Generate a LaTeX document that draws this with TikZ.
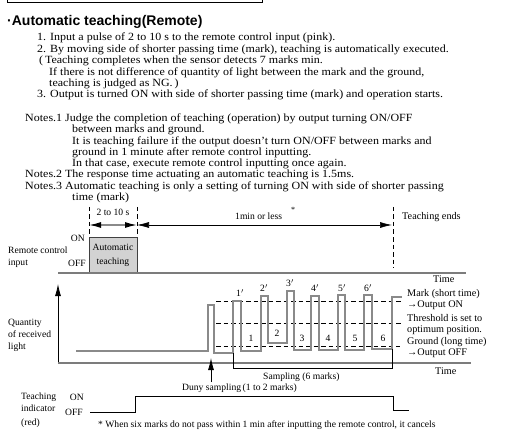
\documentclass[tikz,border=0pt]{standalone}
\usepackage{fontspec}
\setmainfont{Liberation Serif}
\newfontfamily\headfont{Liberation Sans}
\newfontfamily\bodyfont[FakeStretch=1.09]{Liberation Serif}
\usetikzlibrary{arrows.meta}
\definecolor{SignalGray}{HTML}{8A8A8A}
\definecolor{AxisGray}{HTML}{7C7C7C}
\definecolor{BoxGray}{HTML}{D2D2D2}

\begin{document}
\begin{tikzpicture}[x=1pt,y=-1pt,
    bodytext/.style={anchor=base west,inner sep=0pt,
      font=\bodyfont\fontsize{11}{12}\selectfont},
    labeltext/.style={inner sep=0pt,font=\fontsize{9.6}{11}\selectfont},
    sidetext/.style={anchor=base west,inner sep=0pt,
      font=\fontsize{10.2}{11}\selectfont},
    wave/.style={SignalGray,line width=1.4pt},
    guide/.style={dash pattern=on 4.5pt off 3pt,line width=0.5pt},
    timeline/.style={AxisGray,line width=1.2pt},
    bigtip/.tip={Latex[length=12pt,width=6pt,color=black]}]

  \useasboundingbox (0,0) rectangle (524,430);
  \clip (0,0) rectangle (524,430);

  % frame left over from the previous section
  \draw[line width=0.7pt] (7,-10) rectangle (262,2.5);

  % heading and steps
  \node[anchor=base west,inner sep=0pt,
    font=\headfont\bfseries\fontsize{14}{16}\selectfont]
    (title) at (7,26) {·Automatic teaching(Remote)};

  \node[bodytext] (step1) at (37,41) {1. Input a pulse of 2 to 10 s to the remote control input (pink).};
  \node[bodytext] (step2) at (37,52.4) {2. By moving side of shorter passing time (mark), teaching is automatically executed.};
  \node[bodytext] (step2a) at (39,63.8) {(\,Teaching completes when the sensor detects 7 marks min.};
  \node[bodytext] (step2b) at (49,75.2) {If there is not difference of quantity of light between the mark and the ground,};
  \node[bodytext] (step2c) at (49,86.6) {teaching is judged as NG.\,)};
  \node[bodytext] (step3) at (37,98) {3. Output is turned ON with side of shorter passing time (mark) and operation starts.};

  % notes
  \node[bodytext] (note1) at (25,121.5) {Notes.1 Judge the completion of teaching (operation) by output turning ON/OFF};
  \node[bodytext] (note1a) at (72,132.8) {between marks and ground.};
  \node[bodytext] (note1b) at (72,144.1) {It is teaching failure if the output doesn’t turn ON/OFF between marks and};
  \node[bodytext] (note1c) at (72,155.4) {ground in 1 minute after remote control inputting.};
  \node[bodytext] (note1d) at (72,166.7) {In that case, execute remote control inputting once again.};
  \node[bodytext] (note2) at (25,178) {Notes.2 The response time actuating an automatic teaching is 1.5ms.};
  \node[bodytext] (note3) at (25,189.3) {Notes.3 Automatic teaching is only a setting of turning ON with side of shorter passing};
  \node[bodytext] (note3a) at (72,200.6) {time (mark)};

  % time spans
  \coordinate (startT) at (89,225);
  \coordinate (autoT) at (137,225);
  \coordinate (endT) at (392,225);
  \draw[guide] (89,207) -- (89,237);
  \draw[guide] (137,207) -- (137,237);
  \draw[guide] (393,207) -- (393,268);
  \draw[SignalGray,line width=1.4pt,bigtip-bigtip] (startT) -- (autoT);
  \draw[line width=0.6pt,bigtip-bigtip] (autoT) -- (endT);
  \node[labeltext,anchor=base] (spanA) at (113,216) {2 to 10 s};
  \node[labeltext,anchor=base west] (spanB) at (235,219.5) {1min or less};
  \node[inner sep=0pt,font=\fontsize{8}{9}\selectfont] (star) at (293,210) {*};
  \node[sidetext] (ends) at (402,220) {Teaching ends};

  % remote control input
  \draw[fill=BoxGray,draw=black!75,line width=0.8pt]
    (89,273) -- (89,237) -- (137,237) -- (137,273);
  \node[labeltext,anchor=base] (autoA) at (113,250.5) {Automatic};
  \node[labeltext,anchor=base] (autoB) at (113,264.5) {teaching};
  \draw[timeline] (58,273) -- (466,273);
  \node[labeltext,anchor=base east] (remOn) at (85,241) {ON};
  \node[labeltext,anchor=base east] (remOff) at (86,266.5) {OFF};
  \node[labeltext,anchor=base west] (remA) at (8,253.5) {Remote control};
  \node[labeltext,anchor=base west] (remB) at (8,265.5) {input};
  \node[sidetext] (timeA) at (433,282.5) {Time};

  % received light
  \draw[line width=0.8pt,-bigtip] (58,363) -- (58,284);
  \draw[timeline] (58,363) -- (471,363);
  \node[labeltext,anchor=base west] (qtyA) at (8,325.5) {Quantity};
  \node[labeltext,anchor=base west] (qtyB) at (8,337.5) {of received};
  \node[labeltext,anchor=base west] (qtyC) at (8,349.5) {light};
  \node[sidetext] (timeB) at (435,374.5) {Time};

  \draw[guide] (216,301) -- (402,301);
  \draw[guide] (216,323) -- (402,323);
  \draw[guide] (216,346) -- (400,346);

  \draw[wave] (76,351) -- (208,351) -- (208,305) -- (214,305) -- (214,353)
    -- (233,353) -- (233,301) -- (241,301) -- (241,351)
    -- (261,351) -- (261,296) -- (268,296) -- (268,343)
    -- (287,343) -- (287,291) -- (294,291) -- (294,350)
    -- (311,350) -- (311,296) -- (319,296) -- (319,350)
    -- (338,350) -- (338,295) -- (345,295) -- (345,350)
    -- (364,350) -- (364,295) -- (372,295) -- (372,349)
    -- (392,349) -- (392,297) -- (402,297);

  \node[labeltext] (m1) at (240,293) {1$'$};
  \node[labeltext] (m2) at (264,288) {2$'$};
  \node[labeltext] (m3) at (290,283) {3$'$};
  \node[labeltext] (m4) at (315,288) {4$'$};
  \node[labeltext] (m5) at (342,288) {5$'$};
  \node[labeltext] (m6) at (368,288) {6$'$};
  \node[labeltext] (g1) at (251,338) {1};
  \node[labeltext] (g2) at (277,333) {2};
  \node[labeltext] (g3) at (302,338) {3};
  \node[labeltext] (g4) at (328,338) {4};
  \node[labeltext] (g5) at (355,338) {5};
  \node[labeltext] (g6) at (383,338) {6};

  \node[sidetext] (markA) at (407,296.5) {Mark (short time)};
  \node[sidetext] (markB) at (407,307.5) {→Output ON};
  \node[sidetext] (thrA) at (407,321.5) {Threshold is set to};
  \node[sidetext] (thrB) at (407,332.5) {optimum position.};
  \node[sidetext] (gndA) at (407,344.5) {Ground (long time)};
  \node[sidetext] (gndB) at (407,355.5) {→Output OFF};

  % sampling
  \draw[line width=0.6pt] (233,353) -- (233,368) -- (392,368) -- (392,349);
  \node[labeltext,anchor=base west] (samp) at (263,379.5) {Sampling (6 marks)};
  \node[labeltext,anchor=base west] (duny) at (182,390.5) {Duny sampling\,(1 to 2 marks)};
  \coordinate (dunyTip) at (211,358);
  \draw[line width=0.8pt,-bigtip] (211,382) -- (dunyTip);

  % teaching indicator
  \node[labeltext,anchor=base west] (indA) at (21,399.5) {Teaching};
  \node[labeltext,anchor=base west] (indB) at (21,411.5) {indicator};
  \node[labeltext,anchor=base west] (indC) at (21,425) {(red)};
  \node[labeltext,anchor=base east] (indOn) at (84,400.5) {ON};
  \node[labeltext,anchor=base east] (indOff) at (83,415.5) {OFF};
  \draw[line width=0.8pt] (90,412) -- (135,412) -- (135,396) -- (393,396)
    -- (393,410) -- (409,410);

  \node[labeltext,anchor=base west] (foot) at (98,427.5)
    {* When six marks do not pass within 1 min after inputting the remote control, it cancels};

\end{tikzpicture}
\end{document}
